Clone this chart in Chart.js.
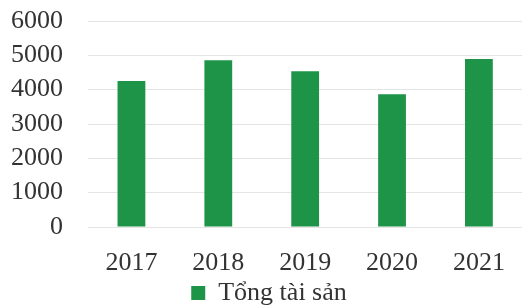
<!DOCTYPE html>
<html>
<head>
<meta charset="utf-8">
<script src="https://cdn.jsdelivr.net/npm/chart.js@4"></script>
<style>
  html, body { margin: 0; padding: 0; background: #fff; overflow: hidden; }
  #wrap { width: 528px; height: 307px; }
</style>
</head>
<body>
<div id="wrap"><canvas id="assetsChart"></canvas></div>
<script>
// values
var years = ['2017', '2018', '2019', '2020', '2021'];
var totalAssets = [4250, 4860, 4540, 3870, 4890];
var seriesName = 'Tổng tài sản';
var yTicks = [0, 1000, 2000, 3000, 4000, 5000, 6000];

document.addEventListener("DOMContentLoaded", function() {
    var ctx = document.getElementById('assetsChart').getContext('2d');
    var font = { family: '"Liberation Serif", "Times New Roman", serif', size: 26, lineHeight: 1 };
    new Chart(ctx, {
        type: 'bar',
        data: {
            labels: years,
            datasets: [{
                label: seriesName,
                data: totalAssets,
                backgroundColor: '#1e9448',
                borderColor: '#1e9448',
                borderWidth: 0,
                barPercentage: 0.32,
                categoryPercentage: 1
            }]
        },
        options: {
            responsive: true,
            maintainAspectRatio: false,
            animation: false,
            layout: { padding: { left: 11, right: 1, top: 0, bottom: -9 } },
            plugins: {
                tooltip: { enabled: false },
                legend: {
                    position: 'bottom',
                    labels: {
                        color: '#333',
                        font: font,
                        boxWidth: 14,
                        boxHeight: 14,
                        padding: 2
                    }
                }
            },
            scales: {
                x: {
                    grid: { display: false, drawTicks: false },
                    border: { display: false },
                    afterFit: function(axis) { axis.height = 51; },
                    ticks: { color: '#333', font: font, padding: 23 }
                },
                y: {
                    min: yTicks[0],
                    max: yTicks[yTicks.length - 1],
                    grid: { color: '#e4e4e4', lineWidth: 1, drawTicks: false },
                    border: { display: false },
                    afterFit: function(axis) {
                        axis.width = 77;
                        axis.paddingTop = 21;
                        axis.paddingBottom = 0;
                    },
                    ticks: {
                        color: '#333', font: font, padding: 25,
                        stepSize: yTicks[1] - yTicks[0],
                        autoSkip: false,
                        callback: function(v) { return String(v); }
                    }
                }
            }
        }
    });
});
</script>
</body>
</html>
